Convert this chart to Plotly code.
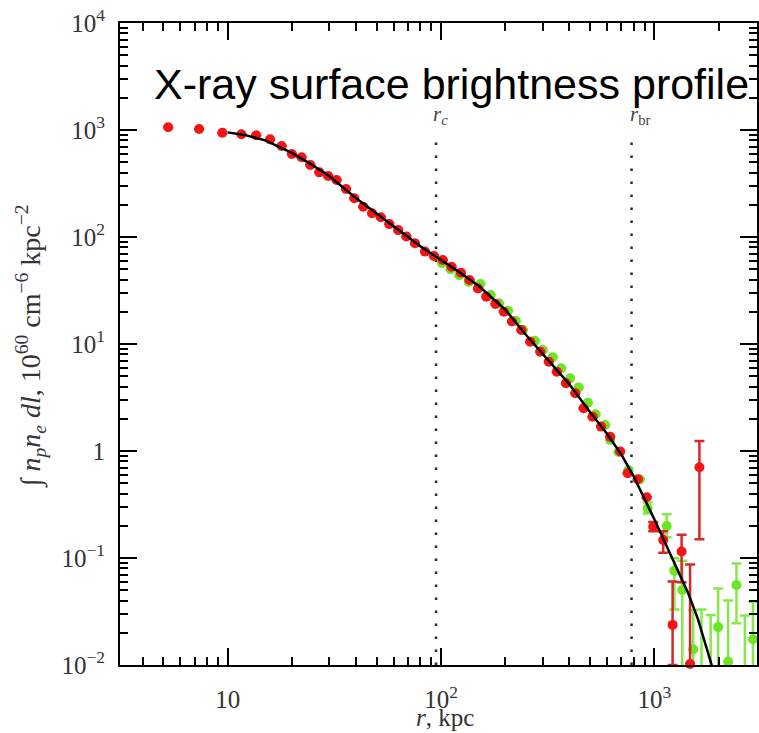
import math
import plotly.graph_objects as go

# ---------------- data ----------------
red_r = [5.26, 7.35, 9.44, 11.6, 13.6, 15.8, 17.9, 20.0, 22.2, 24.4, 26.9, 29.6, 32.4, 35.9,
         39.2, 43.2, 47.5, 52.2, 57.2, 63.0, 68.8, 75.5, 84.1, 92.7, 102, 112, 124, 136, 149,
         163, 180, 197, 215, 238, 262, 292, 320, 349, 385, 426, 466, 513, 563, 621, 692, 750,
         836, 921, 988, 1101, 1218, 1342, 1471, 1627]
red_y = [1060, 1020, 944, 912, 892, 818, 708, 597, 556, 471, 402, 372, 341, 281,
         230, 192, 167, 153, 132, 116, 101, 87.3, 73, 66.4, 61, 52.8, 46.4, 39.6, 33.1,
         27.7, 23.7, 20.0, 16.2, 13.5, 10.5, 8.47, 6.84, 5.51, 4.29, 3.46, 2.51, 2.09, 1.69,
         1.36, 0.99, 0.62, 0.545, 0.369, 0.196, 0.147, 0.0237, 0.115, 0.0102, 0.705]
# upper / lower ends of the visible error bars (None = bar hidden by marker)
red_hi = [None] * 48 + [0.217, 0.178, 0.0604, 0.165, 0.0869, 1.24]
red_lo = [None] * 48 + [0.178, 0.112, 0.01, 0.0594, 0.0102, 0.150]

green_r = [101, 111, 122, 135, 153, 171, 187, 206, 224, 242, 275, 300, 334, 366, 403, 442,
           488, 530, 588, 621, 680, 757, 856, 931, 1142, 1241, 1352, 1521, 1664, 1837, 1991,
           2218, 2427, 2657, 2899]
green_y = [57, 50, 44, 38, 36.4, 28.7, 24, 20.5, 16.5, 13.5, 10.7, 8.8, 7.52, 5.93, 4.78,
           3.93, 2.83, 2.2, 1.75, 1.27, 0.98, 0.664, 0.545, 0.292, 0.199, 0.0762, 0.0502,
           0.014, 0.006, 0.006, 0.0226, 0.0107, 0.056, 0.006, 0.0174]
green_hi = [None] * 23 + [0.33, 0.257, 0.10, 0.0945, 0.0327, 0.033, 0.0293, 0.052, 0.040,
                          0.089, 0.029, 0.039]
green_lo = [None] * 23 + [0.26, 0.156, 0.033, 0.0, 0.0, 0.0, 0.0, 0.0, 0.0, 0.0245, 0.0, 0.0]

fit_r = [10, 12, 15, 20, 25, 30, 40, 50, 60, 70, 80, 90, 100, 120, 150, 200, 250, 300,
         400, 500, 600, 700, 800, 1000, 1200, 1440, 1600, 1845, 1950]
fit_y = [950, 900, 800, 610, 470, 370, 230, 165, 125, 100, 82, 70, 61, 48, 35, 21, 12.2,
         8.0, 4.2, 2.3, 1.45, 0.93, 0.58, 0.23, 0.105, 0.047, 0.027, 0.01, 0.0072]

r_c = 94.8
r_br = 782
marker_line_top = 950

x_tickvals = [10, 100, 1000]
x_ticktext = ["10", "10<sup>2</sup>", "10<sup>3</sup>"]
y_tickvals = [1e-2, 1e-1, 1, 10, 100, 1000, 1e4]
y_ticktext = ["10<sup>\u22122</sup>", "10<sup>\u22121</sup>", "1", "10<sup>1</sup>",
              "10<sup>2</sup>", "10<sup>3</sup>", "10<sup>4</sup>"]


def errs(vals, hi, lo):
    plus, minus = [], []
    for v, h, l in zip(vals, hi, lo):
        plus.append(0 if h is None else max(h - v, 0))
        minus.append(0 if l is None else max(v - l, 0))
    return plus, minus


rp, rm = errs(red_y, red_hi, red_lo)
gp, gm = errs(green_y, green_hi, green_lo)

fig = go.Figure()

# dotted reference lines
for rv in (r_c, r_br):
    fig.add_trace(go.Scatter(x=[rv, rv], y=[0.01, marker_line_top], mode="lines",
                             line=dict(color="#2a2a2a", width=2.5, dash="2.5px,10.5px"),
                             hoverinfo="skip", showlegend=False))

fig.add_trace(go.Scatter(
    x=green_r, y=green_y, mode="markers",
    marker=dict(color="#6ae622", size=10),
    error_y=dict(type="data", symmetric=False, array=gp, arrayminus=gm,
                 color="#84ea4a", thickness=2.5, width=5),
    cliponaxis=True, showlegend=False))

fig.add_trace(go.Scatter(
    x=red_r, y=red_y, mode="markers",
    marker=dict(color="#f41414", size=10),
    error_y=dict(type="data", symmetric=False, array=rp, arrayminus=rm,
                 color="#d42a2a", thickness=2.5, width=5),
    cliponaxis=False, showlegend=False))

fig.add_trace(go.Scatter(x=fit_r, y=fit_y, mode="lines",
                         line=dict(color="black", width=2.5), showlegend=False))

# minor ticks (2..9 in every decade)
x_minor = [m * 10 ** d for d in range(0, 4) for m in range(2, 10)]
y_minor = [m * 10 ** d for d in range(-2, 4) for m in range(2, 10)]

tickfont = dict(family="Liberation Serif", size=25, color="#333333")
axis_common = dict(type="log", showgrid=False, zeroline=False, showline=True,
                   linecolor="black", linewidth=2, mirror="allticks", ticks="inside",
                   ticklen=17, tickwidth=2, tickcolor="black", tickfont=tickfont)

fig.update_xaxes(range=[0.4953, 3.4813], tickmode="array", tickvals=x_tickvals,
                 ticktext=x_ticktext, ticklabelstandoff=11,
                 minor=dict(tickmode="array", tickvals=x_minor, ticks="inside",
                            ticklen=8, tickwidth=2, tickcolor="black", showgrid=False),
                 **axis_common)
fig.update_yaxes(range=[-2, 4], tickmode="array", tickvals=y_tickvals,
                 ticktext=y_ticktext, ticklabelstandoff=8,
                 minor=dict(tickmode="array", tickvals=y_minor, ticks="inside",
                            ticklen=8, tickwidth=2, tickcolor="black", showgrid=False),
                 **axis_common)

annos = [
    dict(text="X-ray surface brightness profile", xref="paper", yref="paper",
         x=(152 - 120) / 639, y=1 - (84 - 23) / 642, xanchor="left", yanchor="middle",
         showarrow=False, font=dict(family="Liberation Sans", size=43, color="black")),
    dict(text="<i>r<sub>c</sub></i>", xref="x", yref="paper",
         x=math.log10(r_c) + 0.02, y=1 - (115 - 23) / 642, xanchor="center", yanchor="middle",
         showarrow=False, font=dict(family="Liberation Serif", size=21, color="#444444")),
    dict(text="<i>r</i><sub>br</sub>", xref="x", yref="paper",
         x=math.log10(r_br) + 0.04, y=1 - (115 - 23) / 642, xanchor="center", yanchor="middle",
         showarrow=False, font=dict(family="Liberation Serif", size=21, color="#444444")),
    dict(text="<i>r</i>, kpc", xref="paper", yref="paper",
         x=(446 - 120) / 639, y=1 - (717 - 23) / 642, xanchor="center", yanchor="middle",
         showarrow=False, font=dict(family="Liberation Serif", size=25, color="#333333")),
    dict(text="\u222b <i>n<sub>p</sub>n<sub>e</sub> dl</i>, 10<sup>60</sup> cm<sup>\u22126</sup> kpc<sup>\u22122</sup>",
         xref="paper", yref="paper", textangle=-90,
         x=(30 - 120) / 639, y=1 - (346 - 23) / 642, xanchor="center", yanchor="middle",
         showarrow=False, font=dict(family="Liberation Serif", size=28, color="#333333")),
]

fig.update_layout(width=759, height=733, margin=dict(l=120, r=0, t=23, b=68),
                  plot_bgcolor="white", paper_bgcolor="white", annotations=annos,
                  showlegend=False)

fig.write_html("out.html")
